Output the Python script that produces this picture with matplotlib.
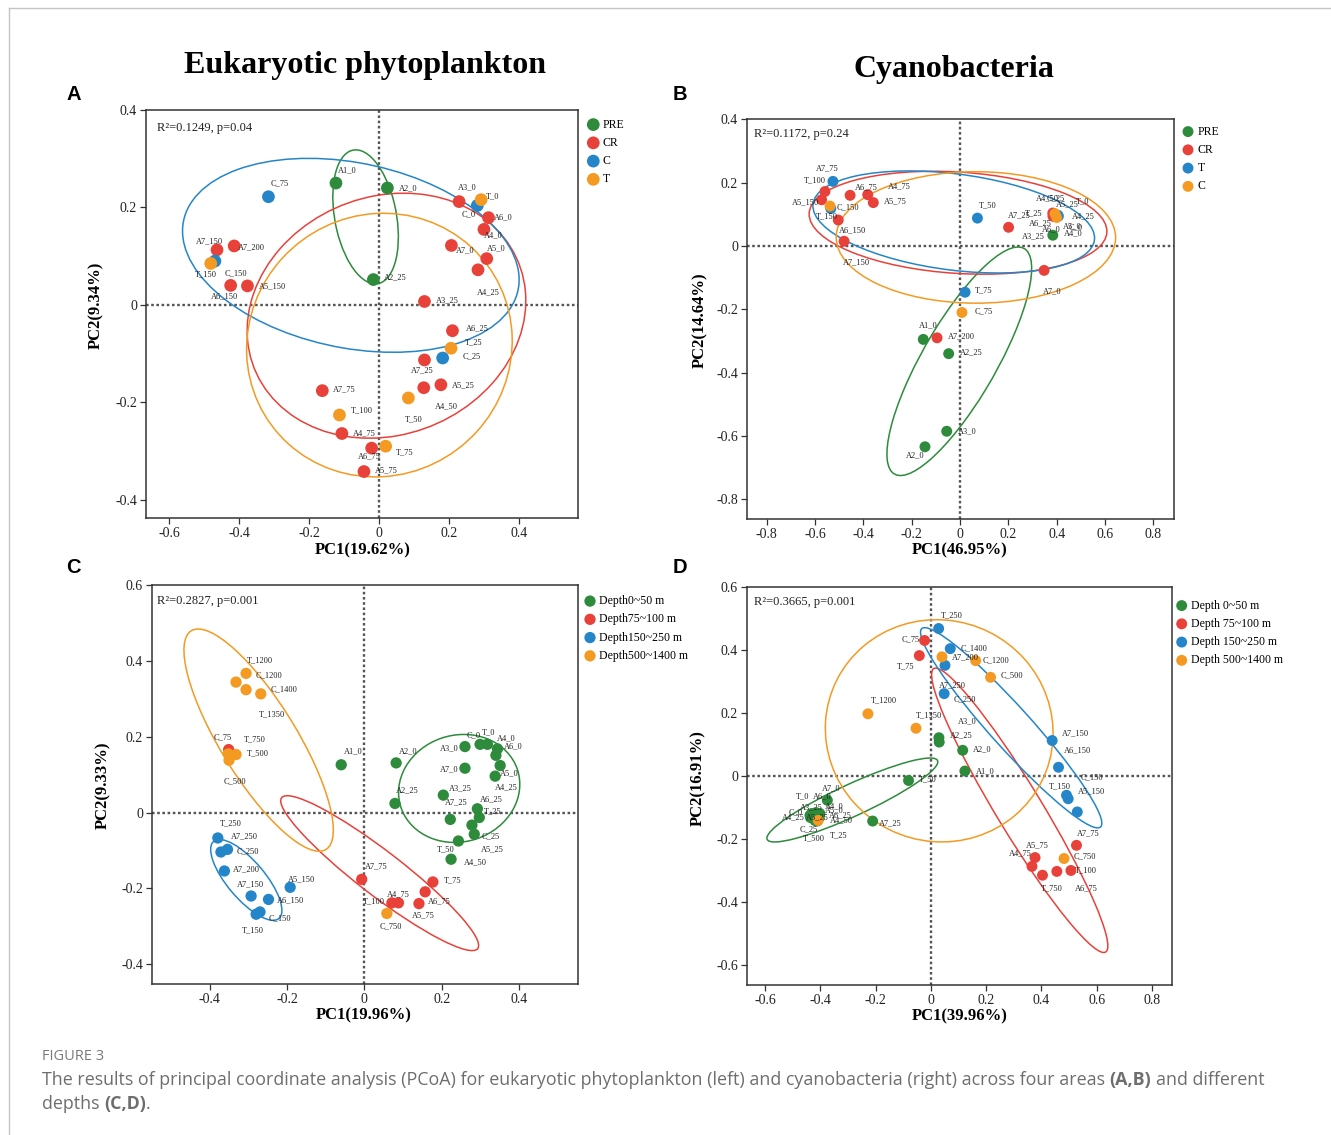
import numpy as np
import matplotlib
matplotlib.use("Agg")
import matplotlib.pyplot as plt
from matplotlib.patches import Ellipse
from matplotlib.lines import Line2D
from matplotlib.ticker import FuncFormatter

# ======================= DATA =======================
# ---- Panel A: eukaryotic phytoplankton, four areas ----
a_pre_labels = ["A1_0", "A2_0", "A2_25"]
a_pre_pc1 = [-0.123, 0.024, -0.016]
a_pre_pc2 = [0.250, 0.240, 0.052]
a_cr_labels = ["A3_0", "A6_0", "A4_0", "A7_0", "A5_0", "A4_25", "A7_150", "A7_200", "A6_150",
               "A5_150", "A3_25", "A6_25", "A7_25", "A5_25", "A4_50", "A7_75", "A4_75", "A6_75", "A5_75"]
a_cr_pc1 = [0.229, 0.313, 0.300, 0.207, 0.308, 0.283, -0.463, -0.414, -0.424,
            -0.376, 0.130, 0.210, 0.130, 0.177, 0.128, -0.162, -0.106, -0.021, -0.043]
a_cr_pc2 = [0.212, 0.179, 0.155, 0.122, 0.095, 0.072, 0.113, 0.121, 0.040,
            0.039, 0.007, -0.053, -0.113, -0.164, -0.170, -0.176, -0.264, -0.294, -0.342]
a_c_labels = ["C_75", "C_0", "C_150", "C_25"]
a_c_pc1 = [-0.316, 0.281, -0.469, 0.182]
a_c_pc2 = [0.222, 0.204, 0.090, -0.109]
a_t_labels = ["T_0", "T_150", "T_25", "T_50", "T_100", "T_75"]
a_t_pc1 = [0.292, -0.481, 0.206, 0.084, -0.113, 0.019]
a_t_pc2 = [0.216, 0.085, -0.089, -0.191, -0.226, -0.290]

# ---- Panel B: cyanobacteria, four areas ----
b_pre_labels = ["A1_0", "A2_25", "A3_0", "A2_0", "A3_25"]
b_pre_pc1 = [-0.152, -0.047, -0.055, -0.145, 0.384]
b_pre_pc2 = [-0.295, -0.340, -0.585, -0.634, 0.034]
b_cr_labels = ["A7_75", "A5_150", "A6_150", "A7_150", "A6_75", "A4_75", "A5_75", "A7_25", "A4_50",
               "A5_25", "A4_25", "A6_25", "A5_0", "A6_0", "A4_0", "A7_0", "A7_200"]
b_cr_pc1 = [-0.559, -0.573, -0.504, -0.480, -0.455, -0.382, -0.359, 0.201, 0.384,
            0.388, 0.391, 0.386, 0.393, 0.385, 0.390, 0.348, -0.095]
b_cr_pc2 = [0.172, 0.146, 0.082, 0.015, 0.160, 0.162, 0.137, 0.059, 0.104,
            0.100, 0.097, 0.095, 0.093, 0.094, 0.099, -0.077, -0.290]
b_t_labels = ["T_100", "T_150", "T_50", "T_0", "T_25", "T_75"]
b_t_pc1 = [-0.526, -0.535, 0.072, 0.407, 0.405, 0.021]
b_t_pc2 = [0.204, 0.118, 0.088, 0.094, 0.097, -0.146]
b_c_labels = ["C_150", "C_25", "C_0", "C_75"]
b_c_pc1 = [-0.538, 0.393, 0.400, 0.008]
b_c_pc2 = [0.126, 0.102, 0.090, -0.210]

# ---- Panel C: eukaryotic phytoplankton, depth layers ----
c_d1_labels = ["A1_0", "A2_0", "A2_25", "A3_0", "A7_0", "C_0", "T_0", "A4_0", "A6_0", "A5_0",
               "A4_25", "A3_25", "A7_25", "A6_25", "T_25", "A5_25", "C_25", "T_50", "A4_50"]
c_d1_pc1 = [-0.060, 0.082, 0.079, 0.260, 0.260, 0.299, 0.318, 0.344, 0.340, 0.351,
            0.338, 0.204, 0.222, 0.292, 0.297, 0.278, 0.284, 0.243, 0.224]
c_d1_pc2 = [0.126, 0.131, 0.024, 0.174, 0.117, 0.180, 0.180, 0.168, 0.151, 0.124,
            0.096, 0.046, -0.018, 0.010, -0.013, -0.033, -0.057, -0.075, -0.123]
c_d2_labels = ["C_75", "A7_75", "T_100", "A4_75", "A5_75", "A6_75", "T_75"]
c_d2_pc1 = [-0.351, -0.007, 0.071, 0.088, 0.141, 0.157, 0.177]
c_d2_pc2 = [0.166, -0.176, -0.238, -0.238, -0.240, -0.209, -0.183]
c_d3_labels = ["T_250", "C_250", "A7_250", "A7_200", "A7_150", "A6_150", "A5_150", "C_150", "T_150"]
c_d3_pc1 = [-0.379, -0.371, -0.354, -0.362, -0.293, -0.248, -0.192, -0.270, -0.280]
c_d3_pc2 = [-0.067, -0.104, -0.097, -0.154, -0.220, -0.229, -0.197, -0.262, -0.268]
c_d4_labels = ["T_1200", "C_1200", "T_1350", "C_1400", "T_750", "T_500", "C_500", "C_750"]
c_d4_pc1 = [-0.332, -0.306, -0.306, -0.268, -0.352, -0.332, -0.350, 0.058]
c_d4_pc2 = [0.344, 0.367, 0.324, 0.313, 0.155, 0.153, 0.138, -0.266]

# ---- Panel D: cyanobacteria, depth layers ----
d_d1_labels = ["A3_0", "A2_25", "A2_0", "A1_0", "T_50", "A7_25", "A7_0", "T_0", "A6_0", "A3_25",
               "A4_0", "C_0", "A5_0", "A4_25", "A5_25", "A6_25", "A4_50", "C_25", "T_25"]
d_d1_pc1 = [0.029, 0.030, 0.115, 0.123, -0.081, -0.211, -0.375, -0.432, -0.416, -0.428,
            -0.402, -0.438, -0.404, -0.436, -0.424, -0.408, -0.414, -0.420, -0.412]
d_d1_pc2 = [0.122, 0.108, 0.082, 0.016, -0.014, -0.143, -0.077, -0.119, -0.116, -0.123,
            -0.119, -0.125, -0.132, -0.132, -0.128, -0.125, -0.135, -0.141, -0.143]
d_d2_labels = ["C_75", "T_75", "A7_75", "A5_75", "A4_75", "T_750", "A6_75", "T_100"]
d_d2_pc1 = [-0.023, -0.042, 0.527, 0.377, 0.366, 0.404, 0.456, 0.507]
d_d2_pc2 = [0.431, 0.383, -0.220, -0.259, -0.287, -0.315, -0.303, -0.300]
d_d3_labels = ["T_250", "A7_200", "C_250", "A7_250", "A7_150", "A6_150", "T_150", "C_150", "A5_150"]
d_d3_pc1 = [0.028, 0.070, 0.051, 0.048, 0.439, 0.462, 0.491, 0.497, 0.530]
d_d3_pc2 = [0.469, 0.405, 0.352, 0.262, 0.113, 0.028, -0.061, -0.072, -0.114]
d_d4_labels = ["C_1400", "C_1200", "C_500", "T_1200", "T_1350", "C_750", "T_500"]
d_d4_pc1 = [0.040, 0.162, 0.216, -0.228, -0.054, 0.482, -0.408]
d_d4_pc2 = [0.379, 0.367, 0.314, 0.198, 0.152, -0.262, -0.141]

# statistics / axis titles
stat_texts = ["R\u00b2=0.1249, p=0.04", "R\u00b2=0.1172, p=0.24", "R\u00b2=0.2827, p=0.001", "R\u00b2=0.3665, p=0.001"]
x_titles = ["PC1(19.62%)", "PC1(46.95%)", "PC1(19.96%)", "PC1(39.96%)"]
y_titles = ["PC2(9.34%)", "PC2(14.64%)", "PC2(9.33%)", "PC2(16.91%)"]
area_legend_a = ["PRE", "CR", "C", "T"]
area_legend_b = ["PRE", "CR", "T", "C"]
depth_legend_c = ["Depth0~50 m", "Depth75~100 m", "Depth150~250 m", "Depth500~1400 m"]
depth_legend_d = ["Depth 0~50 m", "Depth 75~100 m", "Depth 150~250 m", "Depth 500~1400 m"]

# ======================= STYLE =======================
GREEN, RED, BLUE, ORANGE = "#2d8b3b", "#e8413a", "#2585c9", "#f49a22"
W, H = 1331, 1135
SERIF = ["Liberation Serif", "DejaVu Serif"]
plt.rcParams["font.family"] = SERIF

# label offsets (pixels, text left edge / vertical centre relative to point)
OFF_A = {"A1_0": (2, 13), "A2_0": (12, 0), "A2_25": (11, 2), "A3_0": (-1, 14), "A6_0": (5, 0), "A4_0": (0, -6),
         "A7_0": (5, -5), "A5_0": (0, 10), "A4_25": (-1, -22), "A7_150": (-21, 9), "A7_200": (4, -1),
         "A6_150": (-20, -11), "A5_150": (11, 0), "A3_25": (11, 1), "A6_25": (13, 2), "A7_25": (-14, -10),
         "A5_25": (11, 0), "A4_50": (11, -19), "A7_75": (11, 1), "A4_75": (11, 0), "A6_75": (-14, -8),
         "A5_75": (11, 1), "C_75": (2, 13), "C_0": (-16, -9), "C_150": (10, -12), "C_25": (20, 2),
         "T_0": (5, 3), "T_150": (-16, -11), "T_25": (14, 6), "T_50": (-3, -21), "T_100": (11, 5), "T_75": (10, -6)}
OFF_B = {"A1_0": (-4, 14), "A2_25": (11, 1), "A3_0": (11, 0), "A2_0": (-19, -9), "A3_25": (-31, -1),
         "A7_75": (-9, 23), "A5_150": (-30, -3), "A6_150": (1, -10), "A7_150": (-1, -21), "A6_75": (5, 8),
         "A4_75": (20, 8), "A5_75": (11, 1), "A7_25": (-1, 12), "A4_50": (-17, 15), "A5_25": (2, 10),
         "A4_25": (17, -1), "A6_25": (-24, -7), "A5_0": (8, -10), "A6_0": (-11, -13), "A4_0": (10, -19),
         "A7_0": (-1, -21), "A7_200": (11, 2), "T_100": (-29, 1), "T_150": (-15, -8), "T_50": (1, 13),
         "T_0": (18, 15), "T_25": (-33, 2), "T_75": (10, 2), "C_150": (7, -1), "C_25": (-8, 15),
         "C_0": (12, -10), "C_75": (13, 1)}
OFF_C = {"A1_0": (3, 13), "A2_0": (3, 12), "A2_25": (1, 13), "A3_0": (-25, -2), "A7_0": (-25, -1), "C_0": (-13, 9),
         "T_0": (-6, 12), "A4_0": (-1, 11), "A6_0": (8, 9), "A5_0": (0, -8), "A4_25": (0, -11), "A3_25": (6, 7),
         "A7_25": (-5, 17), "A6_25": (3, 9), "T_25": (5, 6), "A5_25": (9, -24), "C_25": (7, -2), "T_50": (-22, -8),
         "A4_50": (13, -3), "C_75": (-15, 12), "A7_75": (3, 13), "T_100": (-29, 2), "A4_75": (-12, 9),
         "A5_75": (-7, -12), "A6_75": (3, -9), "T_75": (11, 2), "T_250": (2, 15), "C_250": (16, 1),
         "A7_250": (3, 13), "A7_200": (9, 2), "A7_150": (-14, 12), "A6_150": (8, -1), "A5_150": (-2, 8),
         "C_150": (9, -6), "T_150": (-14, -16), "T_1200": (11, 22), "C_1200": (10, -2), "T_1350": (13, -25),
         "C_1400": (10, 5), "T_750": (16, 14), "T_500": (11, 1), "C_500": (-5, -21), "C_750": (-7, -13)}
OFF_D = {"A3_0": (19, 16), "A2_25": (11, 7), "A2_0": (10, 1), "A1_0": (11, 0), "T_50": (10, 1), "A7_25": (6, -2),
         "A7_0": (-5, 12), "T_0": (-16, 17), "A6_0": (-3, 16), "A3_25": (-13, 7), "A4_0": (5, 7), "C_0": (-21, 3),
         "A5_0": (6, 7), "A4_25": (-29, 0), "A5_25": (-8, -1), "A6_25": (11, 0), "A4_50": (13, -2),
         "C_25": (-15, -9), "T_25": (13, -14), "C_75": (-23, 1), "T_75": (-22, -11), "A7_75": (0, 12),
         "A5_75": (-9, 12), "A4_75": (-23, 13), "T_750": (-2, -13), "A6_75": (18, -17), "T_100": (4, 0),
         "T_250": (2, 13), "A7_200": (2, -9), "C_250": (9, -34), "A7_250": (-5, 8), "A7_150": (10, 7),
         "A6_150": (5, 17), "T_150": (-18, 9), "C_150": (12, 21), "A5_150": (1, 21), "C_1400": (19, 9),
         "C_1200": (7, 0), "C_500": (10, 2), "T_1200": (3, 13), "T_1350": (0, 13), "C_750": (10, 2),
         "T_500": (-15, -18)}

panels = [
    dict(rect=(146, 110, 577.7, 518.3), xlim=(-0.666, 0.568), ylim=(-0.438, 0.40),
         xt=[-0.6, -0.4, -0.2, 0, 0.2, 0.4], yt=[-0.4, -0.2, 0, 0.2, 0.4],
         groups=[(a_pre_labels, a_pre_pc1, a_pre_pc2, GREEN), (a_cr_labels, a_cr_pc1, a_cr_pc2, RED),
                 (a_c_labels, a_c_pc1, a_c_pc2, BLUE), (a_t_labels, a_t_pc1, a_t_pc2, ORANGE)],
         legend=area_legend_a, off=OFF_A, s=84, leg_px=(593.3, 126), stat_px=(157.3, 128),
         xlab_px=(363, 550.5), ylab_px=(96, 305), letter="A", letter_px=(73.3, 94.5)),
    dict(rect=(746.7, 119.3, 1174.3, 519.3), xlim=(-0.883, 0.887), ylim=(-0.863, 0.40),
         xt=[-0.8, -0.6, -0.4, -0.2, 0, 0.2, 0.4, 0.6, 0.8], yt=[-0.8, -0.6, -0.4, -0.2, 0, 0.2, 0.4],
         groups=[(b_pre_labels, b_pre_pc1, b_pre_pc2, GREEN), (b_cr_labels, b_cr_pc1, b_cr_pc2, RED),
                 (b_t_labels, b_t_pc1, b_t_pc2, BLUE), (b_c_labels, b_c_pc1, b_c_pc2, ORANGE)],
         legend=area_legend_b, off=OFF_B, s=62, leg_px=(1188, 133), stat_px=(753.5, 134),
         xlab_px=(960, 550.5), ylab_px=(700, 320), letter="B", letter_px=(680, 94.5)),
    dict(rect=(151.7, 585, 578.3, 984), xlim=(-0.550, 0.553), ylim=(-0.452, 0.598),
         xt=[-0.4, -0.2, 0, 0.2, 0.4], yt=[-0.4, -0.2, 0, 0.2, 0.4, 0.6],
         groups=[(c_d1_labels, c_d1_pc1, c_d1_pc2, GREEN), (c_d2_labels, c_d2_pc1, c_d2_pc2, RED),
                 (c_d3_labels, c_d3_pc1, c_d3_pc2, BLUE), (c_d4_labels, c_d4_pc1, c_d4_pc2, ORANGE)],
         legend=depth_legend_c, off=OFF_C, s=66, leg_px=(590, 602.5), stat_px=(157.3, 600.7),
         xlab_px=(364, 1015.5), ylab_px=(103, 785), letter="C", letter_px=(73.3, 567)),
    dict(rect=(746.7, 587.3, 1172.3, 985), xlim=(-0.667, 0.874), ylim=(-0.664, 0.598),
         xt=[-0.6, -0.4, -0.2, 0, 0.2, 0.4, 0.6, 0.8], yt=[-0.6, -0.4, -0.2, 0, 0.2, 0.4, 0.6],
         groups=[(d_d1_labels, d_d1_pc1, d_d1_pc2, GREEN), (d_d2_labels, d_d2_pc1, d_d2_pc2, RED),
                 (d_d3_labels, d_d3_pc1, d_d3_pc2, BLUE), (d_d4_labels, d_d4_pc1, d_d4_pc2, ORANGE)],
         legend=depth_legend_d, off=OFF_D, s=62, leg_px=(1181.7, 607), stat_px=(753.5, 601.7),
         xlab_px=(960, 1016.5), ylab_px=(698, 778), letter="D", letter_px=(680, 567)),
]

ELLIPSE_K = 1.51   # scale of the normal-theory ellipse (population covariance)


def fx(px):
    return px / W


def fy(py):
    return 1 - py / H


def tick_fmt(v, _):
    if abs(v) < 1e-9:
        return "0"
    return f"{v:.1f}"


def add_ellipse(ax, x, y, color):
    x = np.asarray(x, float)
    y = np.asarray(y, float)
    cov = np.cov(x, y, ddof=0)
    vals, vecs = np.linalg.eigh(cov)
    order = vals.argsort()[::-1]
    vals, vecs = vals[order], vecs[:, order]
    angle = np.degrees(np.arctan2(vecs[1, 0], vecs[0, 0]))
    w, h = 2 * ELLIPSE_K * np.sqrt(np.maximum(vals, 0))
    ax.add_patch(Ellipse((x.mean(), y.mean()), w, h, angle=angle, fill=False,
                         edgecolor=color, lw=1.1, zorder=2))


fig = plt.figure(figsize=(W / 100, H / 100), dpi=100)
fig.patch.set_facecolor("white")

for i, p in enumerate(panels):
    l, t, r, b = p["rect"]
    ax = fig.add_axes([fx(l), fy(b), (r - l) / W, (b - t) / H])
    ax.set_xlim(*p["xlim"])
    ax.set_ylim(*p["ylim"])
    ax.set_xticks(p["xt"])
    ax.set_yticks(p["yt"])
    ax.xaxis.set_major_formatter(FuncFormatter(tick_fmt))
    ax.yaxis.set_major_formatter(FuncFormatter(tick_fmt))
    ax.tick_params(direction="out", length=4.5, width=0.9, labelsize=10, color="#333333",
                   labelcolor="#222222", pad=1.8, top=False, right=False)
    for s in ax.spines.values():
        s.set_linewidth(1.1)
        s.set_color("#333333")
    ax.axhline(0, color="#555555", lw=1.7, ls=(0, (1.1, 1.1)), zorder=1)
    ax.axvline(0, color="#555555", lw=1.7, ls=(0, (1.1, 1.1)), zorder=1)

    handles = []
    for (labs, xs, ys, col) in p["groups"]:
        add_ellipse(ax, xs, ys, col)
    for (labs, xs, ys, col), leg in zip(p["groups"], p["legend"]):
        h = ax.scatter(xs, ys, s=p["s"], color=col, edgecolors="none", zorder=3, label=leg)
        handles.append(h)
        for lab, xv, yv in zip(labs, xs, ys):
            dx, dy = p["off"].get(lab, (8, 0))
            ax.annotate(lab, (xv, yv), xytext=(dx, dy), textcoords="offset pixels",
                        fontsize=6, color="#222222", ha="left", va="center", zorder=4)

    # legend (outside the plotting area, to the right)
    lfs = 8.5
    fs_px = lfs * 100 / 72
    mx, my = p["leg_px"]
    ax.legend(handles=handles, loc="upper left",
              bbox_to_anchor=(fx(mx - 0.5 * fs_px), fy(my - 0.62 * fs_px)),
              bbox_transform=fig.transFigure, frameon=False, fontsize=lfs,
              handlelength=1.0, handletextpad=0.3, labelspacing=0.53,
              borderpad=0, borderaxespad=0, scatterpoints=1)

    sx, sy = p["stat_px"]
    ax.text((sx - l) / (r - l), (b - sy) / (b - t), stat_texts[i],
            transform=ax.transAxes, fontsize=9, ha="left", va="center", color="#222222")
    xl = ax.set_xlabel(x_titles[i], fontsize=12, fontweight="bold")
    ax.xaxis.set_label_coords((p["xlab_px"][0] - l) / (r - l), (b - p["xlab_px"][1]) / (b - t))
    xl.set_va("center")
    yl = ax.set_ylabel(y_titles[i], fontsize=12, fontweight="bold")
    ax.yaxis.set_label_coords((p["ylab_px"][0] - l) / (r - l), (b - p["ylab_px"][1]) / (b - t))
    yl.set_va("center")

    fig.text(fx(p["letter_px"][0]), fy(p["letter_px"][1]), p["letter"], fontsize=14.5,
             fontweight="bold", family=["Liberation Sans", "DejaVu Sans"], ha="center", va="center")

# column titles
fig.text(fx(365), fy(65), "Eukaryotic phytoplankton", fontsize=23, fontweight="bold",
         ha="center", va="center")
fig.text(fx(953.5), fy(69), "Cyanobacteria", fontsize=23, fontweight="bold",
         ha="center", va="center")

# page frame lines
fig.add_artist(Line2D([fx(9), 1.0], [fy(8), fy(8)], color="#c4c4c4", lw=1.0))
fig.add_artist(Line2D([fx(9), fx(9)], [fy(8), 0.0], color="#c4c4c4", lw=1.0))

# caption
CAP = ["Open Sans", "DejaVu Sans"]
fig.text(fx(42), fy(1057), "FIGURE 3", fontsize=10.5, color="#7a7a7a", family=CAP,
         ha="left", va="center")
line1_a = "The results of principal coordinate analysis (PCoA) for eukaryotic phytoplankton (left) and cyanobacteria (right) across four areas"
line1_b = "(A,B)"
line1_c = "and different"
renderer = fig.canvas.get_renderer()
probe = fig.text(0, 0, line1_a + " " + line1_b + " " + line1_c, fontsize=12, family=CAP)
wprobe = probe.get_window_extent(renderer).width
probe.remove()
cap_fs = 12 * (1252 - 42) / wprobe
sp = fig.text(0, 0, "a b", fontsize=cap_fs, family=CAP)
sp2 = fig.text(0, 0, "ab", fontsize=cap_fs, family=CAP)
space_w = sp.get_window_extent(renderer).width - sp2.get_window_extent(renderer).width
sp.remove()
sp2.remove()


def cap_piece(x_px, y_px, txt, bold=False):
    tt = fig.text(fx(x_px), fy(y_px), txt, fontsize=cap_fs, family=CAP, color="#6e6e6e",
                  fontweight="bold" if bold else "normal", ha="left", va="center")
    return x_px + tt.get_window_extent(renderer).width


x = cap_piece(42, 1080, line1_a)
x = cap_piece(x + space_w, 1080, line1_b, bold=True)
cap_piece(x + space_w, 1080, line1_c)
x = cap_piece(42, 1104, "depths")
x = cap_piece(x + space_w, 1104, "(C,D)", bold=True)
cap_piece(x, 1104, ".")

fig.savefig("out.png", dpi=100, facecolor="white")
